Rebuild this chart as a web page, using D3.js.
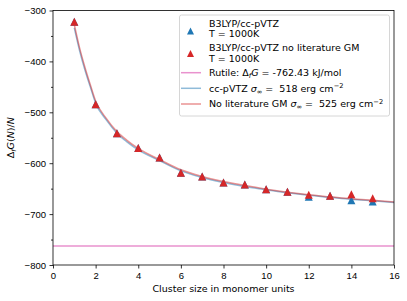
<!DOCTYPE html>
<html>
<head>
<meta charset="utf-8">
<script src="https://d3js.org/d3.v7.min.js"></script>
<style>
  body { margin: 0; background: #fff; }
  svg { display: block; font-family: "DejaVu Sans", sans-serif; }
  .axis text { font-size: 9.5px; fill: #000; }
  .axis line { stroke: #000; stroke-width: 0.8; }
  .axis path { display: none; }
  .mi { font-style: italic; }
</style>
</head>
<body>
<div id="chart"></div>
<script>
// cluster data
var clusterSizes = [1, 2, 3, 4, 5, 6, 7, 8, 9, 10, 11, 12, 13, 14, 15];
var b3lypValues  = [-322, -484, -541, -570, -589, -619, -626, -638, -642, -651, -656, -666, -664, -673, -675];
var noGMValues   = [-322, -484, -541, -570, -589, -619, -626, -638, -642, -651, -656, -662, -664, -661, -669];

// fitted curves
var fitSizes     = [1, 1.25, 1.5, 1.75, 2, 2.5, 3, 3.5, 4, 5, 6, 7, 8, 9, 10, 11, 12, 13, 14, 15, 16];
var fitCcPVTZ    = [-334, -379, -417, -450, -482, -515, -541, -559, -574, -595, -615, -628, -638, -646, -652, -658, -663, -667, -671, -674, -677];
var fitNoGM      = [-328, -374, -412, -446, -478, -512, -538, -556, -571, -593, -613, -626, -636, -644, -651, -657, -662, -666, -670, -673, -676];

var rutileG = -762.43;

var xTicks = [0, 2, 4, 6, 8, 10, 12, 14, 16];
var yTicks = [-800, -700, -600, -500, -400, -300];
var yMinor = [-750, -650, -550, -450, -350];

var width = 407, height = 301;
var mLeft = 53, mRight = 394, mTop = 10.5, mBottom = 265;
var fs = 9.5;

var blue = "#1f77b4", red = "#d62728", pink = "#e377c2";

var svg = d3.select("#chart").append("svg")
    .attr("width", width)
    .attr("height", height);

var x = d3.scaleLinear().domain([0, 16]).range([mLeft, mRight]);
var y = d3.scaleLinear().domain([-800, -300]).range([mBottom, mTop]);

// axes
svg.append("g")
    .attr("class", "axis")
    .attr("transform", "translate(0," + mBottom + ")")
    .call(d3.axisBottom(x).tickValues(xTicks).tickSize(3.5).tickPadding(3.5));

svg.append("g")
    .attr("class", "axis")
    .attr("transform", "translate(" + mLeft + ",0)")
    .call(d3.axisLeft(y).tickValues(yTicks).tickSize(3.5).tickPadding(3.5));

svg.append("g")
    .attr("class", "axis")
    .attr("transform", "translate(" + mLeft + ",0)")
    .call(d3.axisLeft(y).tickValues(yMinor).tickSize(2).tickFormat(""));

// rutile line
svg.append("line")
    .attr("x1", x(0)).attr("x2", x(16))
    .attr("y1", y(rutileG)).attr("y2", y(rutileG))
    .attr("stroke", pink).attr("stroke-opacity", 0.8)
    .attr("stroke-width", 1.5);

// fit curves
var line = d3.line().curve(d3.curveMonotoneX);

svg.append("path")
    .attr("d", line(fitSizes.map(function(n, i) { return [x(n), y(fitCcPVTZ[i])]; })))
    .attr("fill", "none").attr("stroke", blue).attr("stroke-opacity", 0.5)
    .attr("stroke-width", 1.5);

svg.append("path")
    .attr("d", line(fitSizes.map(function(n, i) { return [x(n), y(fitNoGM[i])]; })))
    .attr("fill", "none").attr("stroke", red).attr("stroke-opacity", 0.5)
    .attr("stroke-width", 1.5);

// triangle markers, matplotlib style (width == height)
function tri(h) {
    return "M0," + (-h) + "L" + (-h) + "," + h + "L" + h + "," + h + "Z";
}

svg.append("g").selectAll("path")
    .data(clusterSizes)
    .enter().append("path")
    .attr("d", tri(4))
    .attr("transform", function(d, i) { return "translate(" + x(d) + "," + y(b3lypValues[i]) + ")"; })
    .attr("fill", blue);

svg.append("g").selectAll("path")
    .data(clusterSizes)
    .enter().append("path")
    .attr("d", tri(4))
    .attr("transform", function(d, i) { return "translate(" + x(d) + "," + y(noGMValues[i]) + ")"; })
    .attr("fill", red);

// frame
svg.append("rect")
    .attr("x", mLeft).attr("y", mTop)
    .attr("width", mRight - mLeft).attr("height", mBottom - mTop)
    .attr("fill", "none").attr("stroke", "#000").attr("stroke-width", 0.8);

// axis labels
svg.append("text")
    .attr("x", (mLeft + mRight) / 2).attr("y", 291.5)
    .attr("text-anchor", "middle").attr("font-size", fs)
    .text("Cluster size in monomer units");

var yl = svg.append("text")
    .attr("transform", "translate(13.5," + ((mTop + mBottom) / 2) + ") rotate(-90)")
    .attr("text-anchor", "middle").attr("font-size", fs);
yl.append("tspan").text("Δ");
yl.append("tspan").attr("class", "mi").attr("font-size", 6.7).attr("dy", 2).text("f");
yl.append("tspan").attr("class", "mi").attr("dy", -2).text("G");
yl.append("tspan").text("(");
yl.append("tspan").attr("class", "mi").text("N");
yl.append("tspan").text(")/");
yl.append("tspan").attr("class", "mi").text("N");

// legend
var lg = svg.append("g").attr("font-size", fs);
lg.append("rect")
    .attr("x", 179.5).attr("y", 15).attr("width", 210).attr("height", 101)
    .attr("rx", 2).attr("fill", "#fff").attr("fill-opacity", 0.8)
    .attr("stroke", "#cccccc").attr("stroke-width", 0.8);

var tx = 209;
lg.append("path").attr("d", tri(3.5)).attr("transform", "translate(190.5,31)").attr("fill", blue);
lg.append("text").attr("x", tx).attr("y", 26.8).text("B3LYP/cc-pVTZ");
lg.append("text").attr("x", tx).attr("y", 36.8).text("T = 1000K");

lg.append("path").attr("d", tri(3.5)).attr("transform", "translate(190.5,53.5)").attr("fill", red);
lg.append("text").attr("x", tx).attr("y", 51.2).text("B3LYP/cc-pVTZ no literature GM");
lg.append("text").attr("x", tx).attr("y", 61.8).text("T = 1000K");

lg.append("line").attr("x1", 181).attr("x2", 201).attr("y1", 72.7).attr("y2", 72.7)
    .attr("stroke", pink).attr("stroke-opacity", 0.8).attr("stroke-width", 1.5);
var t3 = lg.append("text").attr("x", tx).attr("y", 75.7);
t3.append("tspan").text("Rutile: Δ");
t3.append("tspan").attr("class", "mi").attr("font-size", 6.7).attr("dy", 2).text("f");
t3.append("tspan").attr("class", "mi").attr("dy", -2).text("G");
t3.append("tspan").text(" = -762.43 kJ/mol");

lg.append("line").attr("x1", 181).attr("x2", 201).attr("y1", 88.3).attr("y2", 88.3)
    .attr("stroke", blue).attr("stroke-opacity", 0.5).attr("stroke-width", 1.5);
var t4 = lg.append("text").attr("x", tx).attr("y", 91.7).attr("xml:space", "preserve");
t4.append("tspan").text("cc-pVTZ ");
t4.append("tspan").attr("class", "mi").text("σ");
t4.append("tspan").attr("font-size", 6.7).attr("dy", 2).text("∞");
t4.append("tspan").attr("dy", -2).text(" =  518 erg cm");
t4.append("tspan").attr("font-size", 6.7).attr("dy", -3.5).text("−2");

lg.append("line").attr("x1", 181).attr("x2", 201).attr("y1", 104).attr("y2", 104)
    .attr("stroke", red).attr("stroke-opacity", 0.5).attr("stroke-width", 1.5);
var t5 = lg.append("text").attr("x", tx).attr("y", 107.4).attr("xml:space", "preserve");
t5.append("tspan").text("No literature GM ");
t5.append("tspan").attr("class", "mi").text("σ");
t5.append("tspan").attr("font-size", 6.7).attr("dy", 2).text("∞");
t5.append("tspan").attr("dy", -2).text(" =  525 erg cm");
t5.append("tspan").attr("font-size", 6.7).attr("dy", -3.5).text("−2");
</script>
</body>
</html>
